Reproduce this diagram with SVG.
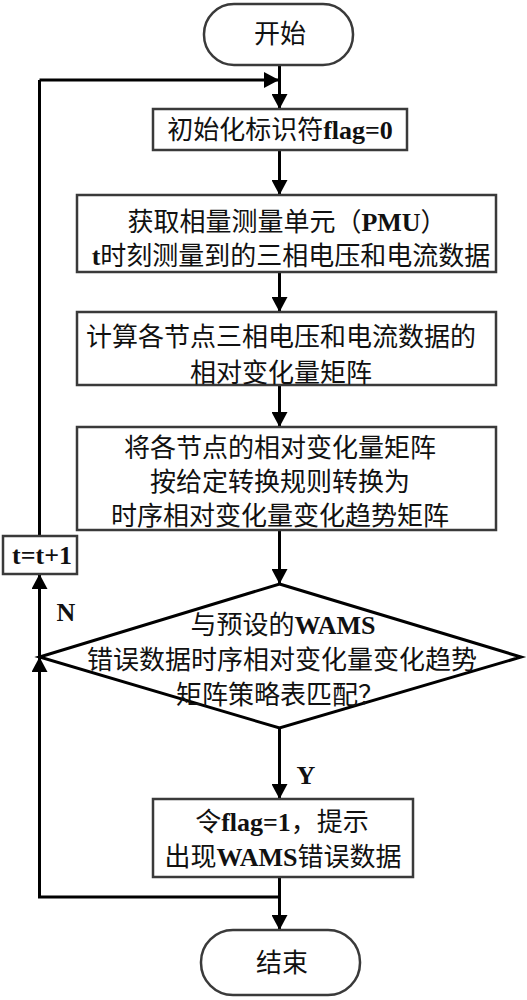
<svg xmlns="http://www.w3.org/2000/svg" width="527" height="1000" viewBox="0 0 527 1000">
<style>
.box{fill:#fff;stroke:#3a3a3a;stroke-width:2.5}
.ln{fill:none;stroke:#000;stroke-width:3}
.t{font-family:"Liberation Serif","Noto Sans CJK SC",serif;font-size:26px;fill:#111;text-anchor:middle}
.cn{font-family:"Noto Sans CJK SC","Liberation Serif",sans-serif;font-weight:normal}
.en{font-family:"Liberation Serif",serif;font-weight:bold}
</style>
<defs>
<marker id="ah" markerUnits="userSpaceOnUse" markerWidth="16" markerHeight="16" viewBox="0 0 15 16" refX="15" refY="8" orient="auto">
<path d="M0,0 L15,8 L0,16 z" fill="#000"/>
</marker>
</defs>
<rect width="527" height="1000" fill="#fff"/>
<g id="connectors">
<line class="ln" x1="279.5" y1="65" x2="279.5" y2="109" marker-end="url(#ah)"/>
<line class="ln" x1="39.5" y1="80" x2="279" y2="80" marker-end="url(#ah)"/>
<line class="ln" x1="279.5" y1="150" x2="279.5" y2="195" marker-end="url(#ah)"/>
<line class="ln" x1="279.5" y1="272" x2="279.5" y2="312" marker-end="url(#ah)"/>
<line class="ln" x1="279.5" y1="385" x2="279.5" y2="427" marker-end="url(#ah)"/>
<line class="ln" x1="279.5" y1="530" x2="279.5" y2="584" marker-end="url(#ah)"/>
<line class="ln" x1="279.5" y1="728" x2="279.5" y2="799" marker-end="url(#ah)"/>
<line class="ln" x1="279.5" y1="877" x2="279.5" y2="930" marker-end="url(#ah)"/>
<line class="ln" x1="39.5" y1="657" x2="39.5" y2="574" marker-end="url(#ah)"/>
<line class="ln" x1="39.5" y1="536" x2="39.5" y2="80"/>
<polyline class="ln" points="279.5,897 39.5,897 39.5,657" marker-end="url(#ah)"/>
<text class="t en" x="66" y="621" font-size="25" style="text-anchor:middle">N</text>
<text class="t en" x="306" y="784" font-size="25" style="text-anchor:middle">Y</text>
</g>
<g id="start">
<rect class="box" x="204" y="4" width="149" height="61" rx="30" ry="30"/>
<text class="t cn" x="280" y="43">开始</text>
</g>
<g id="init">
<rect class="box" x="153" y="109" width="254" height="41"/>
<text class="t" x="280" y="139"><tspan class="cn">初始化标识符</tspan><tspan class="en">flag=0</tspan></text>
</g>
<g id="acquire">
<rect class="box" x="77" y="195" width="419" height="77"/>
<text class="t" x="287" y="231"><tspan class="cn">获取相量测量单元（</tspan><tspan class="en">PMU</tspan><tspan class="cn">）</tspan></text>
<text class="t" x="291" y="265"><tspan class="en">t</tspan><tspan class="cn">时刻测量到的三相电压和电流数据</tspan></text>
</g>
<g id="compute">
<rect class="box" x="77" y="312" width="419" height="73"/>
<text class="t cn" x="281" y="346">计算各节点三相电压和电流数据的</text>
<text class="t cn" x="281" y="382">相对变化量矩阵</text>
</g>
<g id="convert">
<rect class="box" x="77" y="427" width="419" height="103"/>
<text class="t cn" x="280" y="457">将各节点的相对变化量矩阵</text>
<text class="t cn" x="280" y="491">按给定转换规则转换为</text>
<text class="t cn" x="280" y="525">时序相对变化量变化趋势矩阵</text>
</g>
<g id="increment">
<rect class="box" x="3" y="536" width="74" height="38"/>
<text class="t en" x="42" y="564" font-size="25">t=t+1</text>
</g>
<g id="decision">
<polygon class="ln" points="279.5,584 521,657 279.5,728 39.5,657" style="fill:#fff;stroke-width:3"/>
<text class="t" x="283" y="634"><tspan class="cn">与预设的</tspan><tspan class="en">WAMS</tspan></text>
<text class="t cn" x="282" y="669">错误数据时序相对变化量变化趋势</text>
<text class="t cn" x="280" y="704">矩阵策略表匹配？</text>
</g>
<g id="flag">
<rect class="box" x="153" y="799" width="260" height="78"/>
<text class="t" x="282" y="831"><tspan class="cn">令</tspan><tspan class="en">flag=1</tspan><tspan class="cn">，提示</tspan></text>
<text class="t" x="283" y="866"><tspan class="cn">出现</tspan><tspan class="en">WAMS</tspan><tspan class="cn">错误数据</tspan></text>
</g>
<g id="end">
<rect class="box" x="201" y="930" width="159" height="65" rx="32" ry="32"/>
<text class="t cn" x="282" y="972">结束</text>
</g>
</svg>
